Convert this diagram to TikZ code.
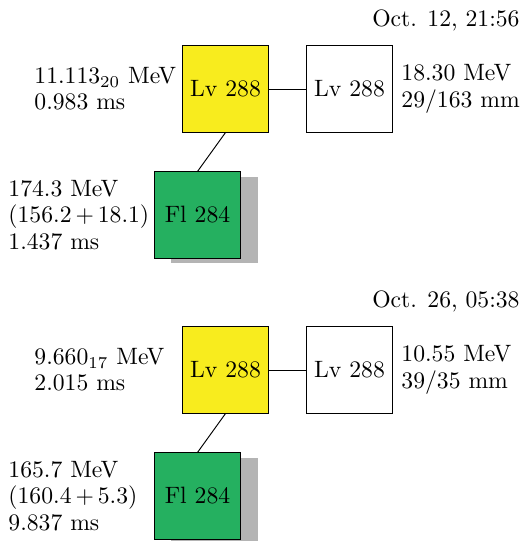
\documentclass[tikz,border=0pt]{standalone}
\definecolor{lvyellow}{RGB}{248,236,30}
\definecolor{flgreen}{RGB}{37,176,96}
\definecolor{shadowgray}{RGB}{180,180,180}
\newcommand{\tightmath}{\medmuskip=3mu\relax}
\begin{document}
\begin{tikzpicture}[x=0.4225pt,y=-0.4225pt,
  box/.style={draw, minimum size=36.4pt, inner sep=0pt},
  lbl/.style={align=left, inner sep=0pt, anchor=west, font=\fontsize{10}{11.1}\selectfont\tightmath},
  datelbl/.style={anchor=base east, inner sep=0pt}]
\useasboundingbox (0,0) rectangle (523,541);
% ---------- first event ----------
\node[datelbl] (d1) at (520,26) {Oct. 12, 21:56};
\node[box, fill=lvyellow] (y1) at (225.5,89) {Lv 288};
\node[box] (w1) at (349.5,89) {Lv 288};
\node[box, draw=none, fill=shadowgray] (s1) at (214.5,220) {};
\node[box, fill=flgreen] (g1) at (197.5,215) {Fl 284};
\draw (y1) -- (w1);
\draw (y1.south) -- (g1.north);
\node[lbl] (l1) at (34,89) {11.113$_{20}$ MeV\\0.983 ms};
\node[lbl] (r1) at (401,89) {18.30 MeV\\29/163 mm};
\node[lbl] (f1) at (8,215) {174.3 MeV\\$(156.2+18.1)$\\1.437 ms};
% ---------- second event ----------
\begin{scope}[shift={(0,281)}]
\node[datelbl] (d2) at (520,26) {Oct. 26, 05:38};
\node[box, fill=lvyellow] (y2) at (225.5,89) {Lv 288};
\node[box] (w2) at (349.5,89) {Lv 288};
\node[box, draw=none, fill=shadowgray] (s2) at (214.5,220) {};
\node[box, fill=flgreen] (g2) at (197.5,215) {Fl 284};
\draw (y2) -- (w2);
\draw (y2.south) -- (g2.north);
\node[lbl] (l2) at (34,89) {9.660$_{17}$ MeV\\2.015 ms};
\node[lbl] (r2) at (401,89) {10.55 MeV\\39/35 mm};
\node[lbl] (f2) at (8,215) {165.7 MeV\\$(160.4+5.3)$\\9.837 ms};
\end{scope}
\end{tikzpicture}
\end{document}
